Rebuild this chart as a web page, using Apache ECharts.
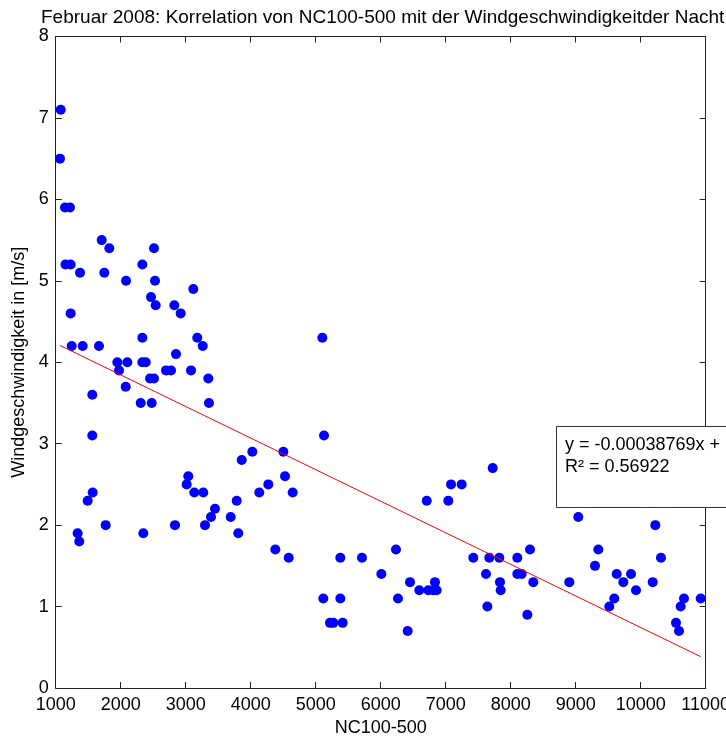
<!DOCTYPE html>
<html>
<head>
<meta charset="utf-8">
<script src="https://cdn.jsdelivr.net/npm/echarts@6/dist/echarts.min.js"></script>
<style>html,body{margin:0;padding:0;background:#fff;}#c{width:726px;height:736px;}</style>
</head>
<body>
<div id="c"></div>
<script>
const titleText = 'Februar 2008: Korrelation von NC100-500 mit der Windgeschwindigkeitder Nacht';
const xName = 'NC100-500';
const yName = 'Windgeschwindigkeit in [m/s]';
const eqLine1 = 'y = -0.00038769x +';
const eqLine2 = 'R\u00B2 = 0.56922';
const trendSlope = -0.00038769;
const trendIntercept = 4.62;

const nc = [1077,1066,1143,1220,1150,1230,1374,1230,1708,1825,1748,2082,2333,2512,2528,2466,2538,2825,2923,3117,
  2333,3178,5102,1246,1415,1666,3262,1948,2102,1974,2333,2385,2851,2697,2774,3082,2077,2451,2512,3348,
  1563,2308,2477,3358,1563,5128,4025,4502,3862,3040,3015,4528,4271,3132,3271,4132,4646,1569,1492,3785,
  3451,3389,3692,3297,1769,2835,1338,1363,2348,3809,4379,4585,5379,5712,6010,5117,5379,5220,5271,5415,
  7723,7082,7246,6708,7040,9040,10225,6235,9348,8297,7425,7671,7825,8102,10312,7620,8102,8169,9297,9631,
  9851,6451,6835,6733,6810,6861,6594,7835,7846,8348,8902,9733,10185,9928,6266,9594,9517,7641,8256,6415,
  10666,10923,10615,10543,10589];
const wind = [7.1,6.5,5.9,5.9,5.2,5.2,5.1,4.6,5.5,5.4,5.1,5.0,5.2,5.4,5.0,4.8,4.7,4.7,4.6,4.9,
  4.3,4.3,4.3,4.2,4.2,4.2,4.2,4.0,4.0,3.9,4.0,4.0,4.1,3.9,3.9,3.9,3.7,3.8,3.8,3.8,
  3.6,3.5,3.5,3.5,3.1,3.1,2.9,2.9,2.8,2.6,2.5,2.6,2.5,2.4,2.4,2.4,2.4,2.4,2.3,2.3,
  2.2,2.1,2.1,2.0,2.0,2.0,1.9,1.8,1.9,1.9,1.7,1.6,1.6,1.6,1.4,1.1,1.1,0.8,0.8,0.8,
  2.7,2.5,2.5,2.3,2.3,2.1,2.0,1.7,1.7,1.7,1.6,1.6,1.6,1.6,1.6,1.4,1.4,1.4,1.5,1.4,
  1.4,1.3,1.3,1.2,1.2,1.2,1.2,1.3,1.2,1.3,1.3,1.3,1.3,1.2,1.1,1.1,1.0,1.0,0.9,0.7,
  1.1,1.1,1.0,0.8,0.7];

const points = nc.map((x, i) => [x, wind[i]]);
const xMinData = Math.min(...nc), xMaxData = Math.max(...nc);
const trend = [xMinData, xMaxData].map(x => [x, trendIntercept + trendSlope * x]);

const FONT = 'Arial, "Liberation Sans", sans-serif';
const AX = '#222';
const chart = echarts.init(document.getElementById('c'), null, {renderer: 'canvas'});
const baseAxis = {
  axisLine: {show: true, onZero: false, lineStyle: {color: AX, width: 1}},
  axisTick: {show: true, inside: true, length: 6, lineStyle: {color: AX}},
  splitLine: {show: false},
  axisLabel: {color: '#000', fontSize: 18, fontFamily: FONT, formatter: v => String(v)}
};
chart.setOption({
  animation: false,
  backgroundColor: '#fff',
  title: {text: titleText, left: 36, top: 3,
    textStyle: {fontSize: 19, fontWeight: 'normal', color: '#000', fontFamily: FONT}},
  grid: {left: 55.7, right: 20.3, top: 36.5, bottom: 48, containLabel: false, outerBoundsMode: 'none'},
  xAxis: [
    Object.assign({}, baseAxis, {type: 'value', position: 'bottom', min: 1000, max: 11000, interval: 1000,
      name: xName, nameLocation: 'middle', nameGap: 30,
      nameTextStyle: {fontSize: 18, color: '#000', fontFamily: FONT},
      axisLabel: Object.assign({}, baseAxis.axisLabel, {margin: 8, showMaxLabel: true, showMinLabel: true, hideOverlap: false})}),
    Object.assign({}, baseAxis, {type: 'value', position: 'top', min: 1000, max: 11000, interval: 1000,
      axisLabel: {show: false}})
  ],
  yAxis: [
    Object.assign({}, baseAxis, {type: 'value', position: 'left', min: 0, max: 8, interval: 1,
      name: yName, nameLocation: 'middle', nameGap: 20, nameRotate: 90,
      nameTextStyle: {fontSize: 18, color: '#000', fontFamily: FONT},
      axisLabel: Object.assign({}, baseAxis.axisLabel, {margin: 7})}),
    Object.assign({}, baseAxis, {type: 'value', position: 'right', min: 0, max: 8, interval: 1,
      axisLabel: {show: false}})
  ],
  series: [
    {type: 'scatter', data: points, symbol: 'circle', symbolSize: 10,
      itemStyle: {color: '#0000ff', opacity: 1}, xAxisIndex: 0, yAxisIndex: 0},
    {type: 'line', data: trend, symbol: 'none', lineStyle: {color: '#ff0000', width: 1},
      xAxisIndex: 0, yAxisIndex: 0, z: 3}
  ],
  graphic: [
    {type: 'group', z: 100, children: [
      {type: 'rect', shape: {x: 556.5, y: 426.5, width: 200, height: 81},
        style: {fill: '#fff', stroke: '#333', lineWidth: 1}, z: 100},
      {type: 'text', x: 565, y: 434, z: 101,
        style: {text: eqLine1 + '\n' + eqLine2, fill: '#000', font: '18px ' + FONT, lineHeight: 22}}
    ]}
  ]
});
</script>
</body>
</html>
